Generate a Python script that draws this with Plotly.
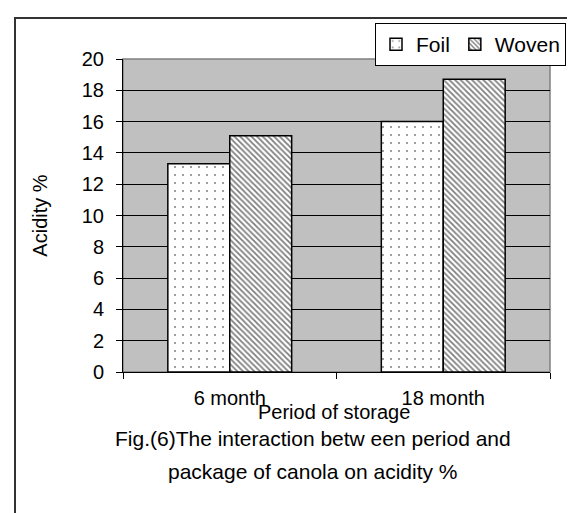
import plotly.graph_objects as go

periods = ['6 month', '18 month']
foil = [13.3, 16.0]
woven = [15.1, 18.7]

W, H = 575, 513
L, R, T, B = 115, 33, 51, 149
pw, ph = W - L - R, H - T - B


def px_x(x):
    return (x - L) / pw


def px_y(y):
    return (H - B - y) / ph


font = dict(family='Liberation Sans, Arial, sans-serif', size=20, color='black')
big = dict(font, size=21)

fig = go.Figure()
fig.add_trace(go.Bar(
    x=periods, y=foil, name='Foil',
    marker=dict(color='white', line=dict(color='black', width=1.5),
                pattern=dict(shape='.', fgcolor='black', bgcolor='white',
                             size=8, solidity=0.05, fillmode='overlay')),
))
fig.add_trace(go.Bar(
    x=periods, y=woven, name='Woven',
    marker=dict(color='white', line=dict(color='black', width=1.5),
                pattern=dict(shape='\\', fgcolor='black', bgcolor='white',
                             size=4, solidity=0.45, fillmode='overlay')),
))

# outer frame (left / top visible only)
fig.add_shape(type='rect', xref='paper', yref='paper',
              x0=px_x(7), x1=px_x(W + 20), y0=px_y(10), y1=px_y(H + 20),
              line=dict(color='#333333', width=2), layer='below')
# plot area border
fig.add_shape(type='rect', xref='paper', yref='paper',
              x0=0, x1=1, y0=0, y1=1,
              line=dict(color='#808080', width=1.5), layer='below')

# x axis title
fig.add_annotation(text='Period of storage',
                   xref='paper', yref='paper', x=px_x(326), y=px_y(417),
                   showarrow=False, font=font)
fig.add_annotation(text='Fig.(6)The interaction betw een period and',
                   xref='paper', yref='paper', x=px_x(305), y=px_y(444),
                   showarrow=False, font=big)
fig.add_annotation(text='package of canola on acidity %',
                   xref='paper', yref='paper', x=px_x(305), y=px_y(477),
                   showarrow=False, font=big)

fig.update_layout(
    width=W, height=H,
    margin=dict(l=L, r=R, t=T, b=B),
    paper_bgcolor='white', plot_bgcolor='#c0c0c0',
    font=font,
    barmode='group', bargap=0.42, bargroupgap=0,
    showlegend=True,
    legend=dict(orientation='h', xanchor='right', yanchor='top',
                x=px_x(558), y=px_y(15),
                bgcolor='white', bordercolor='black', borderwidth=1,
                font=big, itemwidth=30),
)
fig.update_xaxes(
    showline=True, linecolor='black', linewidth=1,
    ticks='outside', tickson='boundaries', ticklen=6, tickcolor='black',
    ticklabelstandoff=8, showgrid=False,
)
fig.update_yaxes(
    range=[0, 20], dtick=2, showline=True, linecolor='black', linewidth=1,
    ticks='outside', ticklen=6, tickcolor='black', ticklabelstandoff=8,
    showgrid=True, gridcolor='black', gridwidth=1, zeroline=False,
    title=dict(text='Acidity %', standoff=28, font=font),
)

fig.write_html('out.html')
